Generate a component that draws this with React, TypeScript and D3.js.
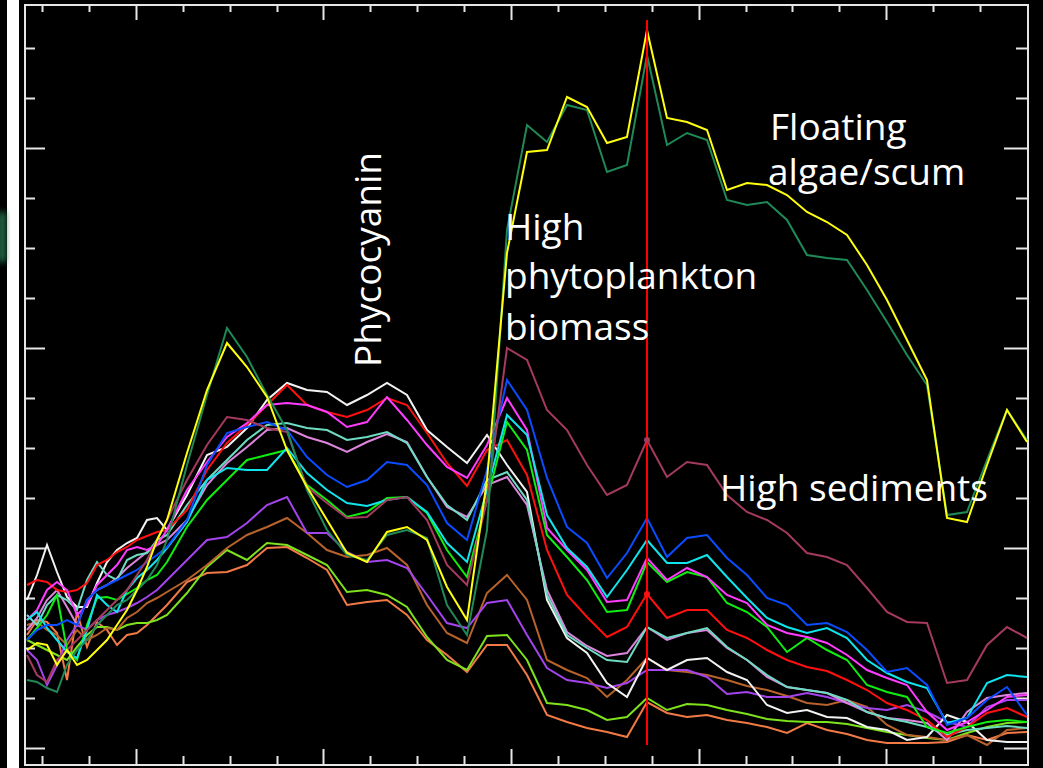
import React from "react";
import * as d3 from "d3";

// Band centres (nm) – finer sampling at the blue end
const bands: number[] = [
  400, 405, 410, 415, 420, 425, 430, 435, 440, 445, 450, 455, 460, 465, 470,
  480, 490, 500, 510, 520, 530, 540, 550, 560, 570, 580, 590, 600, 610, 620,
  630, 640, 650, 660, 670, 680, 690, 700, 710, 720, 730, 740, 750, 760, 770,
  780, 790, 800, 810, 820, 830, 840, 850, 860, 870, 880, 890, 900,
];

// Spectra (arbitrary radiance units)
const darkGreen = [68, 66, 60, 56, 83, 98, 108, 123, 133, 143, 148, 158, 168, 183, 208,
  283, 353, 420, 391, 353, 318, 258, 218, 193, 188, 213, 218, 210, 143, 113, 218, 518, 623, 606, 643, 638, 576, 583, 693, 603, 615, 608, 548, 543, 546, 528, 493, 490, 488, 458, 426, 393, 363, 233, 236, 288, 338, 308];
const yellow = [98, 105, 103, 83, 98, 83, 88, 98, 108, 123, 138, 158, 181, 208, 228,
  295, 358, 405, 381, 351, 298, 261, 228, 195, 186, 216, 221, 208, 161, 128, 268, 495, 596, 598, 651, 641, 605, 611, 718, 630, 626, 618, 558, 565, 563, 553, 536, 526, 513, 483, 448, 408, 368, 230, 226, 283, 338, 306];
const maroon = [93, 73, 66, 88, 98, 108, 118, 128, 138, 148, 158, 173, 188, 208, 228,
  268, 303, 331, 328, 320, 316, 261, 245, 230, 231, 248, 251, 228, 183, 163, 248, 400, 388, 338, 318, 283, 253, 263, 308, 271, 286, 283, 253, 236, 228, 215, 195, 191, 183, 160, 136, 126, 125, 65, 68, 103, 121, 110];
const blue = [108, 118, 123, 123, 128, 123, 148, 158, 163, 168, 173, 178, 186, 193, 201,
  228, 283, 315, 321, 326, 318, 291, 273, 261, 268, 286, 283, 263, 225, 208, 278, 368, 338, 270, 221, 205, 170, 195, 230, 191, 210, 213, 190, 173, 150, 143, 123, 125, 116, 98, 76, 80, 63, 23, 30, 48, 61, 33];
const magenta = [128, 138, 158, 166, 158, 133, 143, 163, 173, 183, 198, 201, 198, 203, 218,
  258, 286, 311, 325, 343, 345, 343, 336, 321, 326, 351, 328, 303, 281, 270, 303, 350, 318, 220, 198, 178, 146, 148, 190, 168, 180, 171, 153, 145, 123, 115, 111, 105, 93, 78, 70, 63, 36, 18, 26, 38, 51, 53];
const cyan = [128, 136, 120, 108, 96, 90, 118, 153, 143, 136, 158, 170, 178, 188, 200,
  226, 268, 280, 278, 278, 300, 275, 258, 245, 242, 248, 251, 236, 205, 186, 258, 333, 313, 233, 200, 181, 151, 178, 208, 185, 185, 193, 171, 150, 130, 121, 115, 120, 110, 88, 75, 66, 60, 25, 30, 65, 73, 71];
const green = [108, 120, 133, 153, 98, 88, 123, 150, 151, 148, 154, 160, 168, 173, 186,
  221, 248, 268, 288, 293, 298, 263, 248, 231, 236, 250, 251, 235, 198, 171, 248, 326, 298, 213, 191, 168, 136, 138, 186, 166, 176, 171, 145, 136, 121, 96, 110, 98, 88, 63, 56, 51, 21, 15, 21, 26, 28, 26];
const red = [163, 168, 166, 158, 156, 158, 165, 183, 188, 196, 201, 208, 212, 216, 218,
  238, 278, 305, 323, 343, 363, 343, 336, 331, 338, 350, 343, 315, 285, 262, 298, 308, 273, 198, 153, 131, 111, 121, 154, 130, 138, 138, 118, 110, 98, 88, 81, 77, 68, 58, 45, 38, 28, 11, 21, 35, 40, 31];
const white = [148, 173, 203, 176, 151, 141, 141, 165, 186, 198, 205, 210, 228, 230, 218,
  253, 293, 301, 320, 348, 365, 358, 356, 343, 353, 365, 353, 318, 301, 285, 313, 283, 256, 148, 110, 95, 65, 51, 90, 78, 88, 90, 76, 68, 43, 35, 38, 31, 30, 21, 18, 8, 11, 33, 26, 8, 6, 6];
const aquamarine = [133, 123, 143, 153, 148, 138, 168, 186, 173, 168, 188, 193, 195, 208, 213,
  243, 268, 288, 308, 323, 325, 320, 318, 308, 311, 316, 305, 271, 243, 228, 268, 276, 248, 153, 113, 100, 88, 86, 121, 110, 115, 120, 101, 88, 73, 61, 58, 55, 48, 36, 30, 26, 21, 13, 18, 20, 22, 20];
const orchid = [118, 130, 148, 158, 141, 123, 148, 158, 163, 170, 180, 188, 196, 203, 208,
  228, 263, 285, 301, 318, 320, 311, 305, 296, 306, 314, 306, 271, 241, 231, 263, 271, 243, 158, 116, 102, 92, 95, 121, 108, 115, 118, 100, 88, 71, 61, 58, 55, 45, 36, 30, 28, 25, 8, 36, 50, 53, 55];
const purple = [98, 88, 63, 83, 108, 123, 118, 128, 133, 136, 140, 145, 151, 158, 168,
  188, 208, 211, 225, 243, 251, 215, 215, 196, 186, 188, 180, 153, 125, 120, 145, 148, 113, 80, 68, 65, 60, 65, 78, 78, 78, 71, 54, 56, 51, 51, 55, 51, 45, 40, 38, 43, 36, 26, 21, 41, 48, 48];
const brown = [123, 126, 118, 113, 103, 118, 108, 113, 120, 118, 130, 136, 145, 150, 156,
  168, 183, 200, 213, 221, 230, 215, 198, 191, 193, 200, 183, 143, 115, 105, 155, 173, 148, 88, 78, 70, 51, 68, 90, 78, 76, 73, 68, 62, 58, 52, 45, 43, 48, 41, 23, 13, 11, 8, 13, 3, 18, 20];
const lime = [108, 103, 98, 93, 88, 101, 113, 121, 121, 118, 123, 125, 125, 128, 133,
  155, 181, 198, 188, 205, 203, 193, 183, 156, 158, 153, 141, 111, 88, 78, 112, 113, 88, 45, 43, 38, 28, 31, 50, 38, 44, 43, 38, 34, 29, 27, 26, 26, 24, 20, 16, 13, 10, 8, 15, 21, 25, 26];
const orange = [113, 128, 126, 115, 68, 136, 101, 126, 118, 103, 113, 115, 123, 133, 143,
  166, 175, 176, 183, 200, 201, 190, 178, 143, 146, 148, 133, 108, 93, 76, 103, 103, 73, 33, 26, 20, 16, 11, 46, 35, 31, 33, 28, 25, 21, 15, 25, 18, 14, 8, 5, 5, 5, 6, 13, 8, 15, 16];

const seriesNames = ["orange", "lime", "brown", "purple", "white", "orchid", "aquamarine", "red", "green", "magenta", "cyan", "blue", "maroon", "darkGreen", "yellow"];
const seriesValues = [orange, lime, brown, purple, white, orchid, aquamarine, red, green, magenta, cyan, blue, maroon, darkGreen, yellow];
const seriesColors = ["#f27a46", "#7ee21c", "#b8622c", "#a444ec", "#f2f2f2", "#de86de", "#6edcc2", "#ff1010", "#10ee10", "#ff3cff", "#10e4ec", "#0a4cff", "#a43a5c", "#1f8a58", "#ffff10"];

const markerBand = 710;
const markerSeries = ["red", "maroon"];

const yTickValues = d3.range(0, 701, 50);
const xTickValues = d3.range(0, 21).map((k) => 407.5 + 23.45 * k);

const labels = [
  { text: "Floating", x: 770, y: 140, rotate: 0 },
  { text: "algae/scum", x: 768, y: 185, rotate: 0 },
  { text: "High", x: 505, y: 240, rotate: 0 },
  { text: "phytoplankton", x: 505, y: 289, rotate: 0 },
  { text: "biomass", x: 505, y: 340, rotate: 0 },
  { text: "High sediments", x: 720, y: 501, rotate: 0 },
  { text: "Phycocyanin", x: 381, y: 367, rotate: -90 },
];

export default function App() {
  const W = 1043;
  const H = 768;
  const frame = { left: 25, top: 5, right: 1028, bottom: 765 };
  const x = d3.scaleLinear().domain([400, 900]).range([27, 1027]);
  const y = d3.scaleLinear().domain([0, 700]).range([748, 48]);
  const line = d3
    .line<number>()
    .x((_, i) => x(bands[i]))
    .y((d) => y(d));
  const mi = bands.indexOf(markerBand);

  return (
    <svg
      width={W}
      height={H}
      style={{ position: "absolute", left: 0, top: 0, display: "block" }}
      xmlns="http://www.w3.org/2000/svg"
    >
      <defs>
        <filter id="blur" x="-50%" y="-50%" width="200%" height="200%">
          <feGaussianBlur stdDeviation="3" />
        </filter>
      </defs>
      <rect x={0} y={0} width={W} height={H} fill="#000" />
      <rect x={7} y={0} width={12} height={H} fill="#fff" />
      <rect x={-2} y={212} width={8} height={50} fill="#2f8a5e" opacity={0.8} filter="url(#blur)" />

      {/* frame */}
      <rect
        x={frame.left}
        y={frame.top}
        width={frame.right - frame.left}
        height={frame.bottom - frame.top}
        fill="none"
        stroke="#e6e6e6"
        strokeWidth={2}
      />
      {yTickValues.map((v) => {
        const major = v % 200 === 0;
        const yy = Math.round(y(v)) + 0.5;
        return (
          <g key={"yt" + v} stroke="#e6e6e6" strokeWidth={2}>
            <line x1={frame.left} x2={frame.left + (major ? 20 : 10)} y1={yy} y2={yy} />
            <line x1={frame.right} x2={frame.right - (major ? 24 : 12)} y1={yy} y2={yy} />
          </g>
        );
      })}
      {xTickValues.map((v, k) => {
        const major = k % 4 === 2;
        const xx = Math.round(x(v)) + 0.5;
        return (
          <g key={"xt" + k} stroke="#e6e6e6" strokeWidth={2}>
            <line x1={xx} x2={xx} y1={frame.top} y2={frame.top + (major ? 15 : 7)} />
            <line x1={xx} x2={xx} y1={frame.bottom} y2={frame.bottom - (major ? 16 : 9)} />
          </g>
        );
      })}

      {/* spectra */}
      {seriesValues.map((vals, si) => (
        <path
          key={seriesNames[si]}
          d={line(vals) || ""}
          fill="none"
          stroke={seriesColors[si]}
          strokeWidth={2}
          strokeLinejoin="miter"
        />
      ))}

      {/* marker line */}
      <line
        x1={x(markerBand)}
        x2={x(markerBand)}
        y1={y(728)}
        y2={y(3)}
        stroke="#ff0000"
        strokeWidth={2}
      />
      {markerSeries.map((name) => {
        const si = seriesNames.indexOf(name);
        return (
          <circle
            key={"dot" + name}
            cx={x(markerBand)}
            cy={y(seriesValues[si][mi])}
            r={3}
            fill={seriesColors[si]}
          />
        );
      })}

      {/* labels */}
      {labels.map((l) => (
        <text
          key={l.text}
          transform={`translate(${l.x},${l.y}) rotate(${l.rotate})`}
          fill="#fff"
          fontFamily="'Open Sans', 'Noto Sans', sans-serif"
          fontSize={37}
        >
          {l.text}
        </text>
      ))}
    </svg>
  );
}
